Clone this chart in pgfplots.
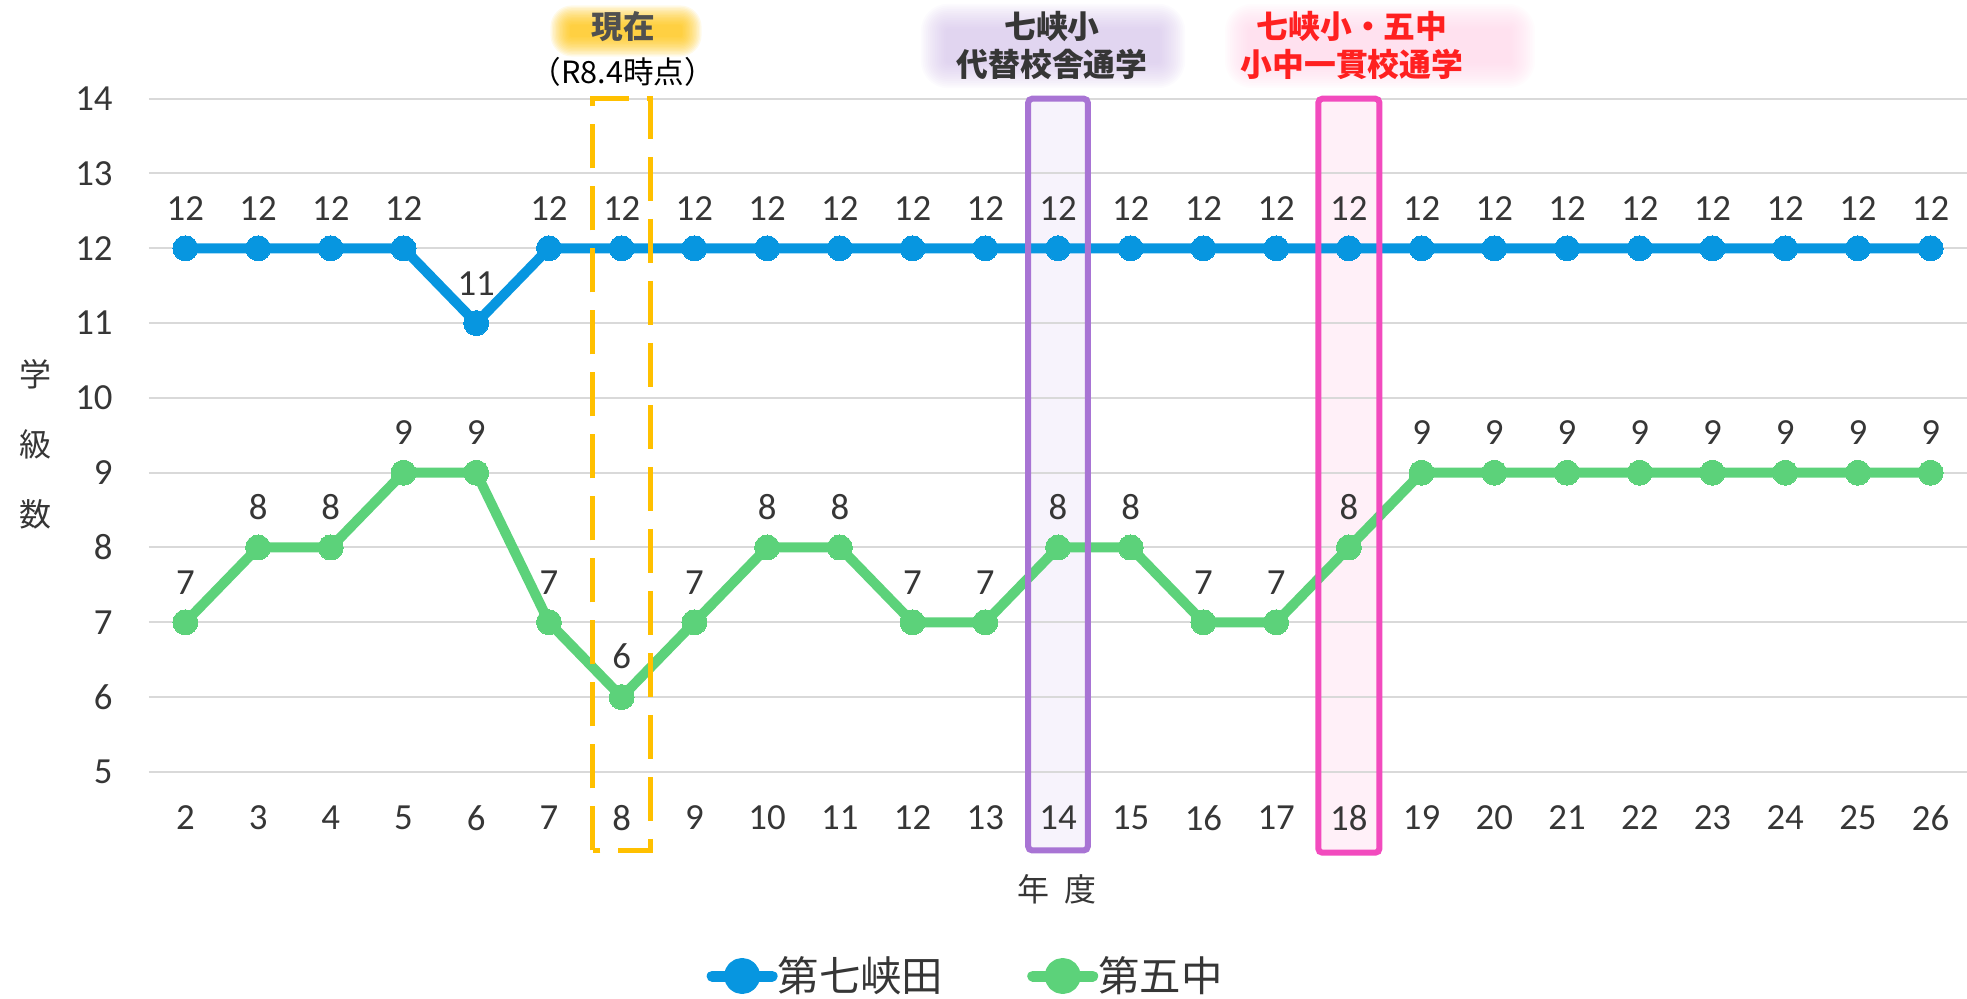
\documentclass[border=0pt]{standalone}
\usepackage{pgfplots}
\pgfplotsset{compat=1.18}
\usepackage{pgfplotstable}
\usepackage{fontspec}
\setmainfont{Carlito}
\newfontfamily\cjk{Noto Sans CJK JP}
\definecolor{cBlue}{HTML}{0796E0}
\definecolor{cGreen}{HTML}{5CD27A}
\definecolor{cGrid}{HTML}{D9D9D9}
\definecolor{cText}{HTML}{363636}
\definecolor{cYel}{HTML}{FFC000}
\definecolor{cPur}{HTML}{A874D4}
\definecolor{cPurF}{HTML}{F7F3FC}
\definecolor{cPink}{HTML}{F24BBE}
\definecolor{cPinkF}{HTML}{FFF0F8}
\definecolor{cRed}{HTML}{FF2020}
\definecolor{cGlowY}{HTML}{FFC000}
\definecolor{cGlowP}{HTML}{CDB8E6}
\definecolor{cGlowK}{HTML}{FFCCE4}
\definecolor{cDark}{HTML}{505050}

\pgfplotstableread{
x a b
2 12 7
3 12 8
4 12 8
5 12 9
6 11 9
7 12 7
8 12 6
9 12 7
10 12 8
11 12 8
12 12 7
13 12 7
14 12 8
15 12 8
16 12 7
17 12 7
18 12 8
19 12 9
20 12 9
21 12 9
22 12 9
23 12 9
24 12 9
25 12 9
26 12 9
}\data

\begin{document}
\begin{tikzpicture}
\useasboundingbox (0,0) rectangle (983.5pt,499.5pt);
% glows
\foreach \i in {0,...,14} {
  \pgfmathsetmacro\e{\i*0.7}
  \fill[cGlowY, opacity=0.085, rounded corners=\e pt+1pt] (285pt-\e pt,481pt-\e pt) rectangle (341pt+\e pt,487pt+\e pt);
}
\foreach \i in {0,...,14} {
  \pgfmathsetmacro\e{\i*0.9}
  \fill[cGlowP, opacity=0.06, rounded corners=\e pt+1pt] (473pt-\e pt,468pt-\e pt) rectangle (580pt+\e pt,485pt+\e pt);
  \fill[cGlowK, opacity=0.06, rounded corners=\e pt+1pt] (625pt-\e pt,468pt-\e pt) rectangle (755pt+\e pt,485pt+\e pt);
}
\node[font=\fontsize{15.8}{18}\selectfont\cjk\bfseries, text=cDark, inner sep=0pt] at (311.5pt,486pt) {現在};
\node[font=\fontsize{15.3}{18}\selectfont\cjk, text=black, inner sep=0pt] at (311.5pt,463.5pt) {（R8.4時点）};
\node[font=\fontsize{15.9}{18}\selectfont\cjk\bfseries, text=cText, inner sep=0pt] at (526pt,486pt) {七峡小};
\node[font=\fontsize{15.9}{18}\selectfont\cjk\bfseries, text=cText, inner sep=0pt] at (526pt,467.5pt) {代替校舎通学};
\node[font=\fontsize{15.9}{18}\selectfont\cjk\bfseries, text=cRed, inner sep=0pt] at (676pt,486pt) {七峡小・五中};
\node[font=\fontsize{15.9}{18}\selectfont\cjk\bfseries, text=cRed, inner sep=0pt] at (676pt,467.5pt) {小中一貫校通学};
% rectangle fills, beneath the axis
\fill[cPurF] (514.1pt,74.3pt) rectangle (543.9pt,450.15pt);
\fill[cPinkF] (659.2pt,73.2pt) rectangle (689.7pt,450.15pt);

\begin{axis}[
  at={(74.5pt,113.55pt)}, anchor=south west, scale only axis,
  width=909pt, height=336.6pt,
  xmin=1.5, xmax=26.5, ymin=5, ymax=14,
  xtick={2,...,26}, ytick={5,...,14},
  axis line style={draw=none}, major tick length=0pt,
  ymajorgrids, grid style={cGrid, line width=1pt},
  tick label style={font=\fontsize{18.4}{22}\selectfont, text=cText},
  /pgf/number format/assume math mode=true,
  xticklabel style={anchor=center, inner sep=0pt, yshift=-23pt},
  yticklabel style={anchor=east, inner sep=0pt, xshift=-18pt},
  clip=false,
  nodes near coords,
  every node near coord/.append style={font=\fontsize{18.4}{22}\selectfont, text=cText, anchor=south, inner sep=0pt, yshift=14pt},
  xlabel={\cjk 年\hspace{0.45em}度},
  xlabel style={at={(axis description cs:0.4995,-0.174)}, anchor=center, font=\fontsize{16}{19}\selectfont, text=cText},
  ylabel={学\\[16pt]級\\[16pt]数},
  ylabel style={rotate=-90, at={(axis description cs:-0.0627,0.487)}, anchor=center, align=center, font=\fontsize{16}{19}\selectfont\cjk, text=cText},
  legend columns=2,
  legend style={at={(0.4486,-0.3032)}, anchor=center, draw=none, fill=none,
    font=\fontsize{20.7}{24}\selectfont\cjk, text=cText, inner sep=0pt,
    nodes={inner sep=0pt},
    /tikz/every even column/.append style={column sep=42pt}},
  legend image code/.code={\draw[#1, line width=5.5pt, line cap=round] (0pt,0pt) -- (30pt,0pt); \fill[#1] (15pt,0pt) circle (6.5pt);},
]
\addplot[cBlue, line width=5pt, line join=round, mark=*, mark size=6.25pt, mark options={solid, fill=cBlue, draw=cBlue, line width=0pt}] table[x=x,y=a]{\data};
\addlegendentry{第七峡田}
\addplot[cGreen, line width=5pt, line join=round, mark=*, mark size=6.25pt, mark options={solid, fill=cGreen, draw=cGreen, line width=0pt}] table[x=x,y=b]{\data};
\addlegendentry{第五中}
\draw[cPur, line width=3pt, rounded corners=2pt] (axis cs:13.59,3.95) rectangle (axis cs:14.41,14);
\draw[cPink, line width=3pt, rounded corners=2pt] (axis cs:17.58,3.92) rectangle (axis cs:18.42,14);
\draw[cYel, line width=2.5pt, dash pattern=on 22pt off 9pt] (axis cs:7.6,3.95) rectangle (axis cs:8.4,14);
\end{axis}
\end{tikzpicture}
\end{document}
